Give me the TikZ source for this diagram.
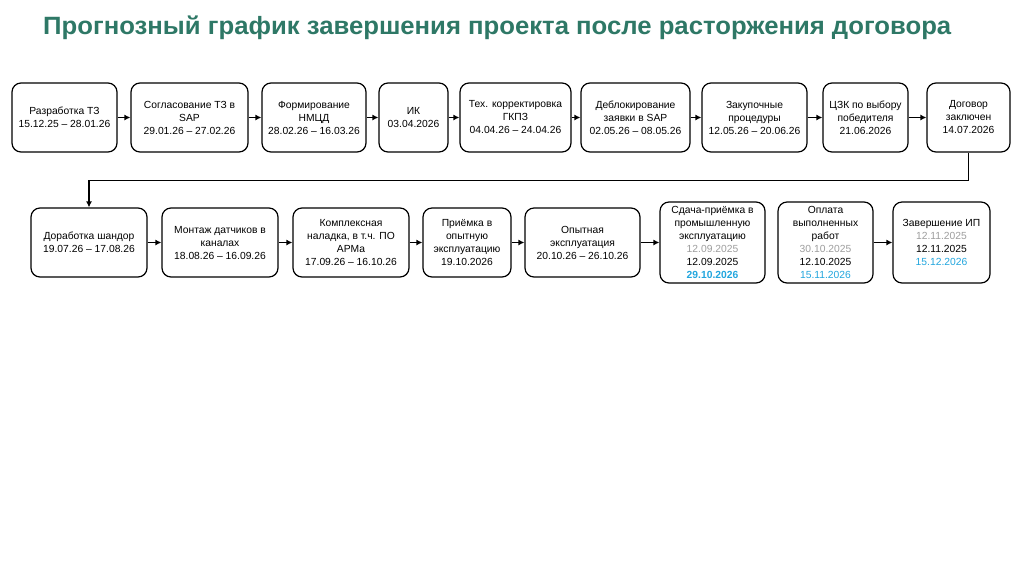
\documentclass[tikz,border=0pt]{standalone}
\usepackage{fontspec}
\usepackage{graphicx}
\setmainfont{Liberation Sans}
\usetikzlibrary{arrows.meta,positioning}
\definecolor{TitleGreen}{HTML}{2E7866}
\definecolor{DateGrey}{HTML}{9E9E9E}
\definecolor{DateBlue}{HTML}{22A6DE}

\tikzset{
  stage/.style={draw,line width=1.2pt,rounded corners=9pt,align=center,
    inner sep=1pt,minimum height=69pt,font=\fontsize{10.3}{13}\selectfont},
  link/.style={line width=1.2pt,-{Latex[length=6pt,width=6pt]}}
}

\begin{document}
\begin{tikzpicture}[x=1pt,y=-1pt]
\useasboundingbox[fill=white] (0,0) rectangle (1024,574);
\node[anchor=base west,inner sep=0,text=TitleGreen,font=\fontsize{25}{30}\selectfont\bfseries] (title) at (43,34)
  {\resizebox{908pt}{\height}{Прогнозный график завершения проекта после расторжения договора}};

% first row
\node[stage,minimum width=105pt] (razr) at (64.5,117.5) {Разработка ТЗ\\15.12.25 – 28.01.26};
\node[stage,minimum width=117pt] (sogl) at (189.5,117.5) {Согласование ТЗ в\\SAP\\29.01.26 – 27.02.26};
\node[stage,minimum width=104pt] (nmcd) at (314,117.5) {Формирование\\НМЦД\\28.02.26 – 16.03.26};
\node[stage,minimum width=69pt] (ik) at (413.5,117.5) {ИК\\03.04.2026};
\node[stage,minimum width=111pt] (gkpz) at (515.5,117.5) {Тех. корректировка\\ГКПЗ\\04.04.26 – 24.04.26};
\node[stage,minimum width=109pt] (debl) at (635.5,117.5) {Деблокирование\\заявки в SAP\\02.05.26 – 08.05.26};
\node[stage,minimum width=105pt] (zakup) at (754.5,117.5) {Закупочные\\процедуры\\12.05.26 – 20.06.26};
\node[stage,minimum width=85pt] (czk) at (865.5,117.5) {ЦЗК по выбору\\победителя\\21.06.2026};
\node[stage,minimum width=83pt] (dogov) at (968.5,117.5) {Договор\\заключен\\14.07.2026};

% second row
\node[stage,minimum width=116pt] (shand) at (89,242.5) {Доработка шандор\\19.07.26 – 17.08.26};
\node[stage,minimum width=116pt] (montazh) at (220,242.5) {Монтаж датчиков в\\каналах\\18.08.26 – 16.09.26};
\node[stage,minimum width=116pt] (nalad) at (351,242.5) {Комплексная\\наладка, в т.ч. ПО\\АРМа\\17.09.26 – 16.10.26};
\node[stage,minimum width=88pt] (priem) at (467,242.5) {Приёмка в\\опытную\\эксплуатацию\\19.10.2026};
\node[stage,minimum width=115pt] (opyt) at (582.5,242.5) {Опытная\\эксплуатация\\20.10.26 – 26.10.26};
\node[stage,minimum width=105pt,minimum height=81pt] (sdacha) at (712.5,242.5)
  {Сдача-приёмка в\\промышленную\\эксплуатацию\\\textcolor{DateGrey}{12.09.2025}\\12.09.2025\\\textcolor{DateBlue}{\bfseries 29.10.2026}};
\node[stage,minimum width=95pt,minimum height=81pt] (oplata) at (825.5,242.5)
  {Оплата\\выполненных\\работ\\\textcolor{DateGrey}{30.10.2025}\\12.10.2025\\\textcolor{DateBlue}{15.11.2026}};
\node[stage,minimum width=97pt,minimum height=81pt] (zaversh) at (941.5,242.5)
  {Завершение ИП\\\textcolor{DateGrey}{12.11.2025}\\12.11.2025\\\textcolor{DateBlue}{15.12.2026}};

\draw[link] (razr) -- (sogl);
\draw[link] (sogl) -- (nmcd);
\draw[link] (nmcd) -- (ik);
\draw[link] (ik) -- (gkpz);
\draw[link] (gkpz) -- (debl);
\draw[link] (debl) -- (zakup);
\draw[link] (zakup) -- (czk);
\draw[link] (czk) -- (dogov);
\draw[link] (dogov.south) -- ++(0,28) -| (shand.north);
\draw[link] (shand) -- (montazh);
\draw[link] (montazh) -- (nalad);
\draw[link] (nalad) -- (priem);
\draw[link] (priem) -- (opyt);
\draw[link] (opyt) -- (sdacha);
\draw[link] (oplata) -- (zaversh);
\end{tikzpicture}
\end{document}
